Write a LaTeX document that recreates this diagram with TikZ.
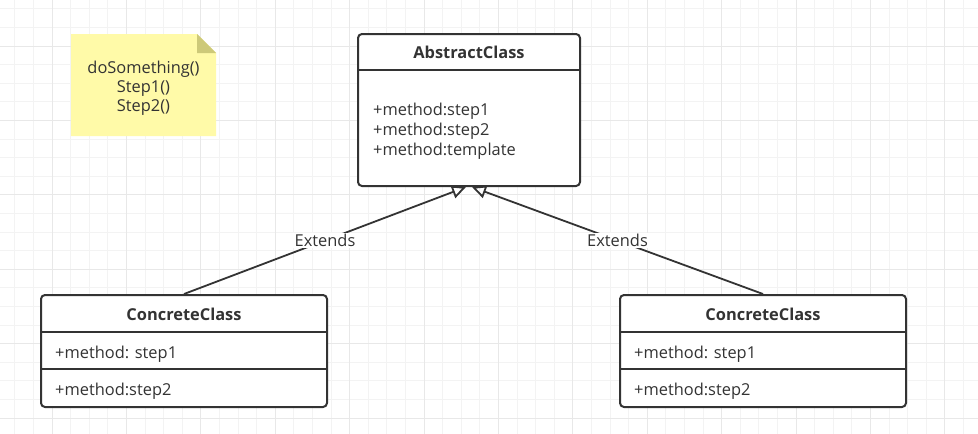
\documentclass[tikz,border=0pt]{standalone}
\usepackage{fontspec}
\setmainfont{Open Sans}
\usetikzlibrary{arrows.meta}
\definecolor{umlgray}{HTML}{333333}
\definecolor{gridminor}{HTML}{F3F3F3}
\definecolor{gridmajor}{HTML}{E8E8E8}
\definecolor{notebody}{RGB}{255,250,168}
\definecolor{notefold}{RGB}{205,201,121}

\begin{document}
\begin{tikzpicture}[x=1pt, y=-1pt,
  umltext/.style={text=umlgray, font=\fontsize{16.4}{20}\selectfont, inner sep=0pt},
  titletext/.style={umltext, font=\bfseries\fontsize{16.4}{20}\selectfont},
  classbox/.style={draw=umlgray, fill=white, line width=2pt, rounded corners=4pt, inner sep=0pt},
  classline/.style={draw=umlgray, line width=2pt},
  extends/.style={draw=umlgray, line width=1.8pt, -{Triangle[open, length=14pt, width=13pt]}},
  edgelabel/.style={umltext, fill=white, inner sep=1.5pt}]
 \useasboundingbox (0,0) rectangle (978,434);
 \fill[white] (0,0) rectangle (978,434);
 % grid
 \foreach \k in {-2,...,50} \draw[gridminor, line width=1pt] ({52+18.6*\k},0) -- ++(0,434);
 \foreach \k in {-2,...,21} \draw[gridminor, line width=1pt] (0,{46+18.6*\k}) -- ++(978,0);
 \foreach \k in {0,4,...,48} \draw[gridmajor, line width=1pt] ({52+18.6*\k},0) -- ++(0,434);
 \foreach \k in {0,4,...,20} \draw[gridmajor, line width=1pt] (0,{46+18.6*\k}) -- ++(978,0);

 % note
 \fill[notebody] (71,34) -- (197,34) -- (216,53) -- (216,136) -- (71,136) -- cycle;
 \fill[notefold] (197,34) -- (197,53) -- (216,53) -- cycle;
 \node[umltext, anchor=base] (note1) at (143.5,73.3) {doSomething()};
 \node[umltext, anchor=base] (note2) at (143.5,92.5) {Step1()};
 \node[umltext, anchor=base] (note3) at (143.5,111.7) {Step2()};

 % abstract class
 \node[classbox, minimum width=222pt, minimum height=152pt] (abs) at (469,110) {};
 \draw[classline] ([yshift=-37pt]abs.north west) -- ([yshift=-37pt]abs.north east);
 \node[titletext, anchor=base] (abstitle) at (469,58.3) {AbstractClass};
 \node[umltext, anchor=base west] (absm1) at (373,115.7) {+method:step1};
 \node[umltext, anchor=base west] (absm2) at (373,135.5) {+method:step2};
 \node[umltext, anchor=base west] (absm3) at (373,155.2) {+method:template};

 % concrete classes
 \node[classbox, minimum width=286pt, minimum height=112pt] (cl) at (184,351) {};
 \draw[classline] ([yshift=-37.7pt]cl.north west) -- ([yshift=-37.7pt]cl.north east);
 \draw[classline] ([yshift=-75pt]cl.north west) -- ([yshift=-75pt]cl.north east);
 \node[titletext, anchor=base] (cltitle) at (184,320.7) {ConcreteClass};
 \node[umltext, anchor=base west] (clm1) at (55,358.3) {+method: step1};
 \node[umltext, anchor=base west] (clm2) at (55,395) {+method:step2};

 \node[classbox, minimum width=286pt, minimum height=112pt] (cr) at (763,351) {};
 \draw[classline] ([yshift=-37.7pt]cr.north west) -- ([yshift=-37.7pt]cr.north east);
 \draw[classline] ([yshift=-75pt]cr.north west) -- ([yshift=-75pt]cr.north east);
 \node[titletext, anchor=base] (crtitle) at (763,320.7) {ConcreteClass};
 \node[umltext, anchor=base west] (crm1) at (634,358.3) {+method: step1};
 \node[umltext, anchor=base west] (crm2) at (634,395) {+method:step2};

 % inheritance
 \draw[extends] (cl.north) -- node[edgelabel] (ext1) {Extends} ([xshift=-3pt]abs.south);
 \draw[extends] (cr.north) -- node[edgelabel] (ext2) {Extends} ([xshift=3pt]abs.south);
\end{tikzpicture}
\end{document}
